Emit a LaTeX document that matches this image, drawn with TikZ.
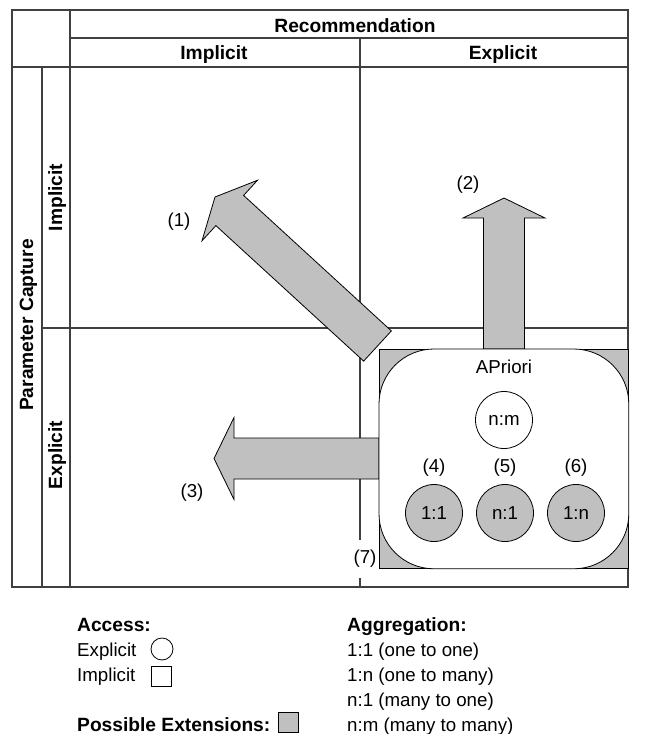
\documentclass[tikz,border=0pt]{standalone}
\usepackage{fontspec}
\setmainfont{Liberation Sans}
\usetikzlibrary{calc}
\usetikzlibrary{positioning}
\definecolor{extgray}{RGB}{192,192,192}
\newcommand{\dfont}{\fontsize{18.7}{22}\selectfont}
\newcommand{\hfont}{\fontsize{19.2}{23}\selectfont\bfseries}
\tikzset{grid line/.style={draw=black!75, line width=1.2pt},
            head/.style={font=\hfont, anchor=base, inner sep=0pt},
            ext/.style={draw=black, fill=extgray, line width=0.8pt},
            agg/.style={circle, draw=black, line width=0.8pt, minimum size=57pt, inner sep=0pt},
            legend/.style={anchor=base west, inner sep=0pt}}
% block arrow from #1 (foot) to #2 (tip)
\newcommand{\extarrow}[2]{%
  \path ($(#2)!20pt!(#1)$) coordinate (hb);
  \draw[ext] ($(#1)!20.5pt!90:(#2)$) -- ($(hb)!20.5pt!-90:(#1)$) -- ($(hb)!41pt!-90:(#1)$)
    -- (#2) -- ($(hb)!41pt!90:(#1)$) -- ($(hb)!20.5pt!90:(#1)$) -- ($(#1)!20.5pt!-90:(#2)$) -- cycle;}

\begin{document}
\begin{tikzpicture}[x=1pt, y=-1pt, font=\dfont]
            \useasboundingbox (0,0) rectangle (649,734);
            % table
            \draw[grid line] (12,10) rectangle (628,587);
            \draw[grid line] (70,38) -- (628,38);
            \draw[grid line] (12,67) -- (628,67);
            \draw[grid line] (42,67) -- (42,587);
            \draw[grid line] (70,10) -- (70,587);
            \draw[grid line] (360,38) -- (360,587);
            \draw[grid line] (42,328) -- (628,328);
            \node[head] (rec) at (355,32.5) {Recommendation};
            \node[head] (recimp) at (214,59.5) {Implicit};
            \node[head] (recexp) at (503,59.5) {Explicit};
            \node[head, rotate=90] (par) at (33,325) {Parameter Capture};
            \node[head, rotate=90] (parimp) at (62,197.5) {Implicit};
            \node[head, rotate=90] (parexp) at (62,455) {Explicit};
            % extensions
            \coordinate (a1s) at (377.5,346); \coordinate (a1t) at (215,197);
            \coordinate (a2s) at (504,349);   \coordinate (a2t) at (504,198);
            \coordinate (a3s) at (379,458.5); \coordinate (a3t) at (214,458.5);
            \extarrow{a1s}{a1t}
            \extarrow{a2s}{a2t}
            \extarrow{a3s}{a3t}
            \node (l1) at (179,222) {(1)};
            \node (l2) at (468,185) {(2)};
            \node (l3) at (192,493) {(3)};
            \node[fill=white, inner xsep=1pt, inner ysep=10pt] (l7) at (365,559) {(7)};
            % apriori
            \node[ext, anchor=north west, minimum width=249pt, minimum height=219pt, inner sep=0pt] (box) at (379,349) {};
            \draw[fill=white, line width=0.8pt, rounded corners=55pt] (box.north west) rectangle (box.south east);
            \node (apriori) at (504,367) {APriori};
            \node[agg, fill=white] (nm) at (504,420) {n:m};
            \node[agg, fill=extgray] (oo) at (434,513) {1:1};
            \node[agg, fill=extgray] (mo) at (505,513) {n:1};
            \node[agg, fill=extgray] (om) at (576,513) {1:n};
            \node (l4) at (434,468) {(4)};
            \node (l5) at (505,468) {(5)};
            \node (l6) at (576,468) {(6)};
            % legend
            \node[legend, font=\hfont] (acc) at (77,631) {Access:};
            \node[legend] (lexp) at (77,656) {Explicit};
            \node[legend] (limp) at (77,681) {Implicit};
            \node[legend, font=\hfont] (lext) at (77,731) {Possible Extensions:};
            \node[circle, draw, line width=0.8pt, minimum size=22pt, inner sep=0pt] (cexp) at (162,649) {};
            \node[draw, line width=0.8pt, minimum size=20pt, inner sep=0pt] (simp) at (161,676) {};
            \node[ext, minimum size=20pt, inner sep=0pt] (sext) at (288,722) {};
            \node[legend, font=\hfont] (aggr) at (347,631) {Aggregation:};
            \node[legend] (g1) at (347,656) {1:1 (one to one)};
            \node[legend] (g2) at (347,681) {1:n (one to many)};
            \node[legend] (g3) at (347,706) {n:1 (many to one)};
            \node[legend] (g4) at (347,731) {n:m (many to many)};
\end{tikzpicture}
\end{document}
